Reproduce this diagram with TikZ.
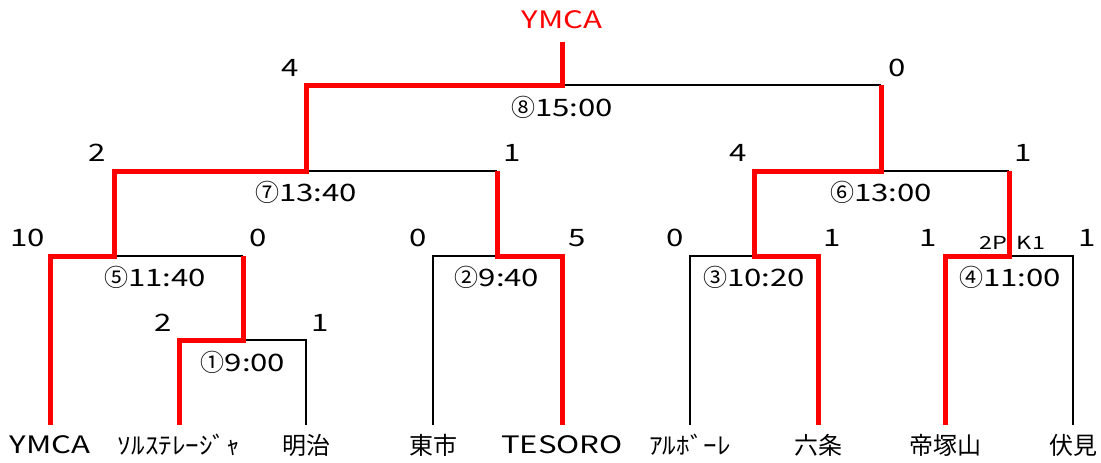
\documentclass[tikz,border=0pt]{standalone}
\usepackage{fontspec}
\setmainfont[FakeStretch=1.3]{Noto Sans CJK JP}
\newfontfamily\jp{Noto Sans CJK JP}
\newfontfamily\hk[FakeStretch=1.13]{Noto Sans CJK JP}
\begin{document}
\begin{tikzpicture}[x=1pt,y=-1pt,
  win/.style={draw=red, line width=5pt, line join=miter},
  lose/.style={draw=black, line width=1.8pt},
  big/.style={font=\fontsize{24}{28}\selectfont, inner sep=0pt, anchor=center},
  small/.style={font=\fontsize{18}{22}\selectfont, inner sep=0pt, anchor=center}]
\useasboundingbox (0,0) rectangle (1101,463);
% leaf labels
\node[big] (t1) at (50,445) {YMCA};
\node[big] (t2) at (179,445) {\hk ｿﾙｽﾃﾚｰｼﾞｬ};
\node[big] (t3) at (306,445) {\jp 明治};
\node[big] (t4) at (433,445) {\jp 東市};
\node[big] (t5) at (562,445) {TESORO};
\node[big] (t6) at (690,445) {\hk ｱﾙﾎﾞｰﾚ};
\node[big] (t7) at (818,445) {\jp 六条};
\node[big] (t8) at (945,445) {\jp 帝塚山};
\node[big] (t9) at (1073,445) {\jp 伏見};
\node[big, text=red] (champ) at (562,20) {YMCA};
% coordinates
\foreach \n/\x in {1/50,2/179,3/306,4/433,5/562,6/690,7/818,8/945,9/1073}
  \coordinate (b\n) at (\x,425);
\coordinate (m1l) at (179,340); \coordinate (m1c) at (243,340); \coordinate (m1r) at (306,340);
\coordinate (m5l) at (50,256); \coordinate (m5c) at (114,256); \coordinate (m5r) at (243,256);
\coordinate (m2l) at (433,256); \coordinate (m2c) at (497,256); \coordinate (m2r) at (562,256);
\coordinate (m3l) at (690,256); \coordinate (m3c) at (754,256); \coordinate (m3r) at (818,256);
\coordinate (m4l) at (945,256); \coordinate (m4c) at (1009,256); \coordinate (m4r) at (1073,256);
\coordinate (m7l) at (114,171); \coordinate (m7c) at (306,171); \coordinate (m7r) at (497,171);
\coordinate (m6l) at (754,171); \coordinate (m6c) at (881,171); \coordinate (m6r) at (1009,171);
\coordinate (m8l) at (306,85); \coordinate (m8c) at (562,85); \coordinate (m8r) at (881,85);
\coordinate (top) at (562,42);
% black lines
\draw[lose] (m1c) -- (m1r) -- (b3);
\draw[lose] (m5c) -- (m5r);
\draw[lose] (b4) -- (m2l) -- (m2c);
\draw[lose] (m7c) -- (m7r);
\draw[lose] (b6) -- (m3l) -- (m3c);
\draw[lose] (m4c) -- (m4r) -- (b9);
\draw[lose] (m6c) -- (m6r);
\draw[lose] (m8c) -- (m8r);
% red lines
\draw[win] (b1) -- (m5l) -- (m5c) -- (m7l) -- (m7c) -- (m8l) -- (m8c) -- (top);
\draw[win] (b2) -- (m1l) -- (m1c) -- (m5r);
\draw[win] (b5) -- (m2r) -- (m2c) -- (m7r);
\draw[win] (b7) -- (m3r) -- (m3c) -- (m6l) -- (m6c) -- (m8r);
\draw[win] (b8) -- (m4l) -- (m4c) -- (m6r);
% times
\node[big] (g8) at (562,107) {{\jp ⑧}15:00};
\node[big] (g7) at (306,192) {{\jp ⑦}13:40};
\node[big] (g6) at (881,192) {{\jp ⑥}13:00};
\node[big] (g5) at (155,277) {{\jp ⑤}11:40};
\node[big] (g2) at (497,277) {{\jp ②}9:40};
\node[big] (g3) at (754,277) {{\jp ③}10:20};
\node[big] (g4) at (1010,277) {{\jp ④}11:00};
\node[big] (g1) at (243,362) {{\jp ①}9:00};
% scores
\node[big] (s8l) at (290,68) {4};
\node[big] (s8r) at (897,68) {0};
\node[big] (s7l) at (97,153) {2};
\node[big] (s7r) at (512,153) {1};
\node[big] (s6l) at (738,153) {4};
\node[big] (s6r) at (1023,153) {1};
\node[big] (s5l) at (28,238) {10};
\node[big] (s5r) at (258,238) {0};
\node[big] (s2l) at (418,238) {0};
\node[big] (s2r) at (577,238) {5};
\node[big] (s3l) at (675,238) {0};
\node[big] (s3r) at (832,238) {1};
\node[big] (s4l) at (928,238) {1};
\node[big] (s4r) at (1087,238) {1};
\node[big] (s1l) at (163,323) {2};
\node[big] (s1r) at (320,323) {1};
\node[small] (pk1) at (993,243) {2P};
\node[small] (pk2) at (1031,243) {K1};
\end{tikzpicture}
\end{document}
